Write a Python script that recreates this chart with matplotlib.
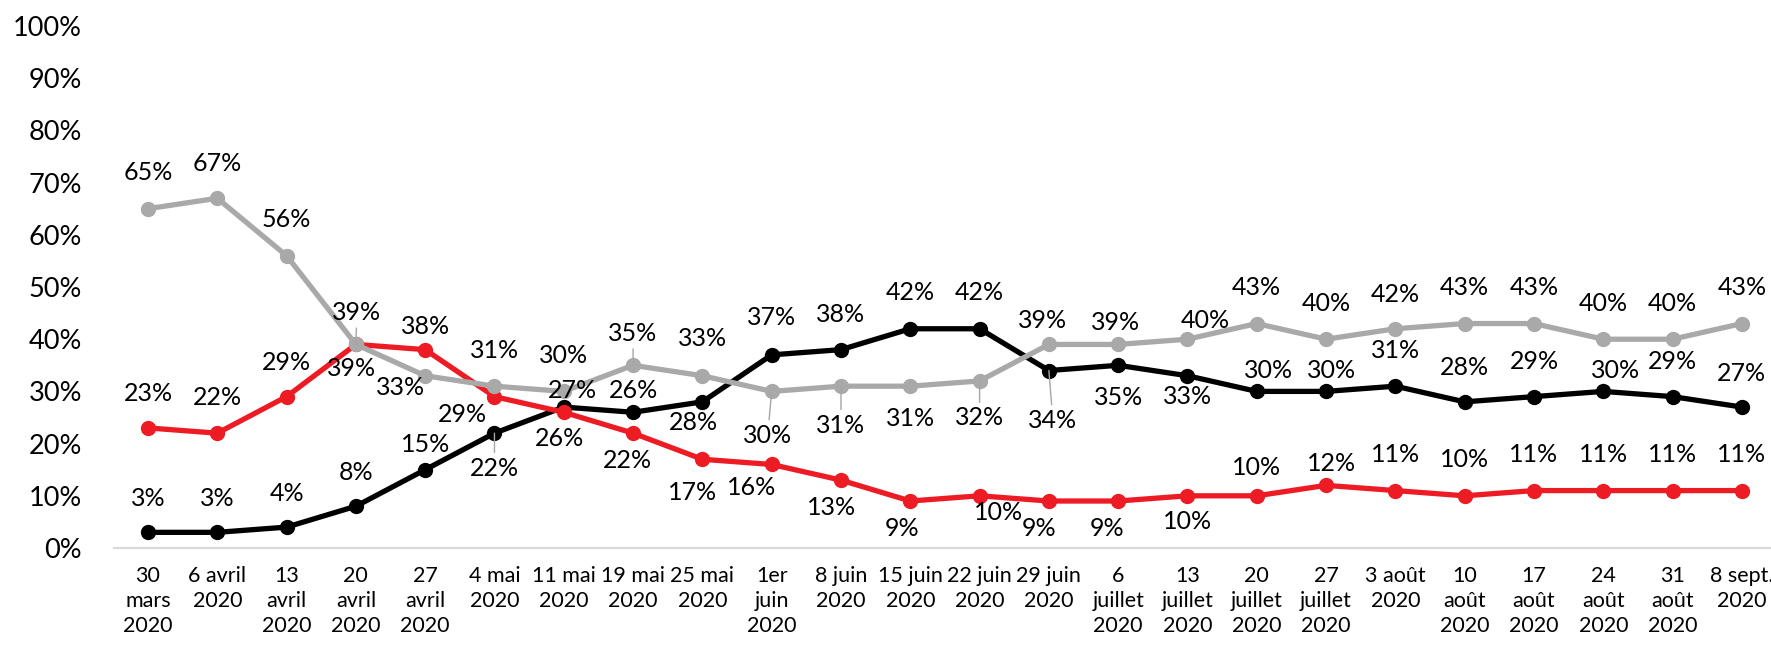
import matplotlib
matplotlib.use("Agg")
import matplotlib.pyplot as plt
from matplotlib.ticker import FuncFormatter

plt.rcParams['font.family'] = ['Lato', 'DejaVu Sans']

dates = ["30\nmars\n2020", "6 avril\n2020", "13\navril\n2020", "20\navril\n2020",
         "27\navril\n2020", "4 mai\n2020", "11 mai\n2020", "19 mai\n2020",
         "25 mai\n2020", "1er\njuin\n2020", "8 juin\n2020", "15 juin\n2020",
         "22 juin\n2020", "29 juin\n2020", "6\njuillet\n2020", "13\njuillet\n2020",
         "20\njuillet\n2020", "27\njuillet\n2020", "3 août\n2020", "10\naoût\n2020",
         "17\naoût\n2020", "24\naoût\n2020", "31\naoût\n2020", "8 sept.\n2020"]

black_vals = [3, 3, 4, 8, 15, 22, 27, 26, 28, 37, 38, 42, 42, 34, 35, 33, 30, 30, 31, 28, 29, 30, 29, 27]
red_vals = [23, 22, 29, 39, 38, 29, 26, 22, 17, 16, 13, 9, 10, 9, 9, 10, 10, 12, 11, 10, 11, 11, 11, 11]
grey_vals = [65, 67, 56, 39, 33, 31, 30, 35, 33, 30, 31, 31, 32, 39, 39, 40, 43, 40, 42, 43, 43, 40, 40, 43]

# label offsets in pixels (dx, dy), dy > 0 means above the marker
black_off = [(0, 34), (0, 34), (0, 34), (0, 34), (0, 25), (0, -35), (9, 17), (0, 22),
             (-9, -21), (0, 37), (0, 35), (0, 36), (0, 36), (4, -50), (0, -32), (0, -21),
             (12, 21), (5, 21), (0, 36), (0, 34), (0, 35), (12, 21), (0, 35), (0, 34)]
red_off = [(0, 34), (0, 36), (0, 34), (-4, -24), (0, 23), (-32, -18), (-4, -26), (-6, -27),
           (-10, -33), (-20, -23), (-9, -27), (-8, -27), (19, -17), (-10, -27), (-11, -27), (0, -26),
           (0, 28), (5, 22), (0, 36), (0, 36), (0, 36), (0, 36), (0, 36), (0, 36)]
grey_off = [(0, 36), (0, 35), (0, 36), (1, 32), (-25, -12), (0, 36), (0, 36), (0, 32),
            (0, 37), (-4, -44), (0, -39), (0, -32), (0, -37), (-6, 24), (-3, 22), (18, 19),
            (0, 36), (0, 36), (0, 34), (0, 36), (0, 36), (0, 36), (0, 36), (0, 36)]

# labels pulled away from their point get a thin leader line
black_leader = [5, 13]
red_leader = []
grey_leader = [3, 7, 9, 10, 12]

fig = plt.figure(figsize=(17.71, 6.46), dpi=100)
ax = fig.add_axes([114 / 1771, 1 - 548 / 646, 1 - 114 / 1771, (548 - 26) / 646])

x = list(range(len(dates)))
series = [
    (black_vals, "#000000", black_off, black_leader),
    (red_vals, "#ed1c24", red_off, red_leader),
    (grey_vals, "#a9a9a9", grey_off, grey_leader),
]

for vals, color, offs, leaders in series:
    ys = [v / 100 for v in vals]
    ax.plot(x, ys, color=color, lw=3.8, marker='o', markersize=10,
            solid_joinstyle='round', zorder=3)
    for i, v in enumerate(vals):
        dx, dy = offs[i]
        arrow = None
        if i in leaders:
            arrow = dict(arrowstyle='-', color='#a6a6a6', lw=1.0, shrinkA=1, shrinkB=0)
        ax.annotate(f"{v}%", (i, v / 100), xytext=(dx, dy), textcoords='offset pixels',
                    ha='center', va='center', fontsize=18, color='black',
                    arrowprops=arrow, zorder=5)

ax.set_xlim(-0.49, 23.42)
ax.set_ylim(0, 1)
ax.set_yticks([i / 10 for i in range(11)])
ax.yaxis.set_major_formatter(FuncFormatter(lambda v, _: f"{v * 100:.0f}%"))
ax.set_xticks(x)
ax.set_xticklabels(dates, fontsize=15.5, linespacing=1.3)
ax.tick_params(axis='y', length=0, pad=23, labelsize=19.5)
ax.tick_params(axis='x', length=0, pad=13)

for side in ['top', 'right', 'left']:
    ax.spines[side].set_visible(False)
ax.spines['bottom'].set_color('#d9d9d9')
ax.spines['bottom'].set_linewidth(1.5)

fig.savefig("out.png", dpi=100)
